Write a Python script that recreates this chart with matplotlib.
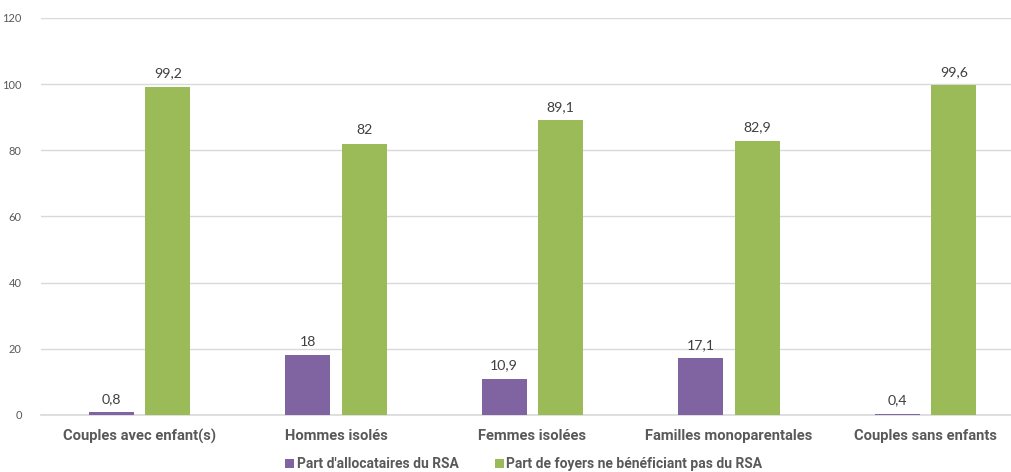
import matplotlib
matplotlib.use("Agg")
import matplotlib.pyplot as plt
import numpy as np

categories = ["Couples avec enfant(s)", "Hommes isolés", "Femmes isolées",
              "Familles monoparentales", "Couples sans enfants"]
rsa = [0.8, 18, 10.9, 17.1, 0.4]
non_rsa = [99.2, 82, 89.1, 82.9, 99.6]
rsa_labels = ["0,8", "18", "10,9", "17,1", "0,4"]
non_rsa_labels = ["99,2", "82", "89,1", "82,9", "99,6"]
series_names = ["Part d'allocataires du RSA", "Part de foyers ne bénéficiant pas du RSA"]
yticks = [0, 20, 40, 60, 80, 100, 120]

plt.rcParams['font.family'] = ['Lato', 'DejaVu Sans']
txt = '#595959'
bold_family = ['Roboto', 'DejaVu Sans']

fig = plt.figure(figsize=(10.11, 4.72), dpi=100)
ax = fig.add_axes([0.0408, 0.1208, 0.9718, 0.8411])

x = np.arange(len(categories))
w = 0.229
off = 0.144
b1 = ax.bar(x - off, rsa, w, color='#8064A2', label=series_names[0], zorder=3)
b2 = ax.bar(x + off, non_rsa, w, color='#9BBB59', label=series_names[1], zorder=3)

for xi, v, l in zip(x - off, rsa, rsa_labels):
    ax.text(xi, v + 2.2, l, ha='center', va='bottom', fontsize=10.2, color='#404040')
for xi, v, l in zip(x + off, non_rsa, non_rsa_labels):
    ax.text(xi, v + 2.2, l, ha='center', va='bottom', fontsize=10.2, color='#404040')

ax.set_xlim(-0.5, len(categories) - 0.5)
ax.set_ylim(0, 120)
ax.set_yticks(yticks)
ax.set_yticklabels([str(t) for t in yticks], fontsize=8, color=txt)
ax.set_xticks(x)
ax.set_xticklabels(categories, fontsize=10.6, fontweight='bold', color=txt, family=bold_family)
ax.tick_params(axis='both', length=0)
ax.tick_params(axis='x', pad=10)
ax.tick_params(axis='y', pad=14)
ax.grid(axis='y', color='#D9D9D9', linewidth=1, zorder=0)
for s in ['top', 'right', 'left']:
    ax.spines[s].set_visible(False)
ax.spines['bottom'].set_color('#D9D9D9')
ax.spines['bottom'].set_linewidth(1.2)

leg = fig.legend(handles=[b1, b2], loc='lower center', bbox_to_anchor=(0.518, -0.025),
                 ncol=2, frameon=False, handlelength=0.65, handleheight=0.65,
                 handletextpad=0.2, columnspacing=2.6,
                 prop={'family': bold_family, 'weight': 'bold', 'size': 10})
for t in leg.get_texts():
    t.set_color(txt)

fig.savefig('out.png', dpi=100)
